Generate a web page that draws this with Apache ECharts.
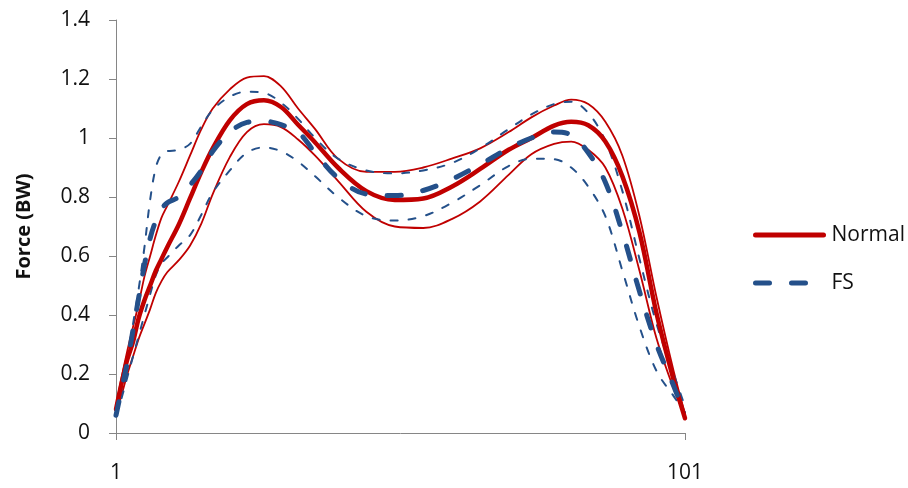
<!DOCTYPE html>
<html>
<head>
<meta charset="utf-8">
<script src="https://cdn.jsdelivr.net/npm/echarts@6/dist/echarts.min.js"></script>
<style>
html,body{margin:0;padding:0;background:#fff;}
#chart{width:908px;height:488px;}
</style>
</head>
<body>
<div id="chart"></div>
<script>
// % of cycle (x positions of the read points)
const xPos = [1,2,3,4,5,6,7,8,9,10,12,14,16,18,21,24,27,30,33,36,40,45,50,55,60,65,70,74,78,81,84,87,90,93,96,99,101];

const normalMean  = [0.08,0.17,0.25,0.31,0.39,0.45,0.50,0.55,0.59,0.63,0.705,0.795,0.885,0.965,1.06,1.115,1.128,1.105,1.045,0.985,0.90,0.82,0.79,0.795,0.835,0.895,0.96,1.0,1.042,1.055,1.043,0.988,0.87,0.68,0.405,0.18,0.05];
const normalUpper = [0.09,0.19,0.28,0.36,0.44,0.53,0.60,0.67,0.73,0.77,0.85,0.94,1.03,1.10,1.165,1.205,1.21,1.175,1.10,1.03,0.93,0.885,0.885,0.90,0.93,0.965,1.02,1.07,1.11,1.13,1.115,1.055,0.94,0.735,0.46,0.21,0.065];
const normalLower = [0.07,0.13,0.20,0.26,0.32,0.37,0.42,0.475,0.515,0.545,0.585,0.635,0.71,0.81,0.935,1.02,1.047,1.037,0.995,0.94,0.855,0.75,0.70,0.695,0.725,0.785,0.875,0.945,0.98,0.988,0.96,0.90,0.76,0.55,0.32,0.15,0.06];
const fsMean      = [0.06,0.15,0.24,0.35,0.46,0.57,0.66,0.72,0.76,0.78,0.80,0.84,0.89,0.955,1.02,1.053,1.057,1.045,1.02,0.95,0.865,0.81,0.805,0.822,0.86,0.91,0.965,1.0,1.02,1.01,0.95,0.85,0.68,0.48,0.30,0.16,0.06];
const fsUpper     = [0.07,0.15,0.25,0.37,0.49,0.63,0.79,0.90,0.945,0.955,0.96,0.98,1.04,1.095,1.14,1.157,1.153,1.12,1.065,1.0,0.93,0.89,0.88,0.89,0.915,0.965,1.03,1.08,1.115,1.123,1.085,0.99,0.82,0.59,0.37,0.20,0.09];
const fsLower     = [0.06,0.12,0.19,0.26,0.33,0.40,0.47,0.535,0.575,0.595,0.635,0.67,0.74,0.815,0.89,0.95,0.968,0.955,0.92,0.87,0.80,0.735,0.72,0.735,0.78,0.84,0.905,0.93,0.928,0.90,0.835,0.735,0.55,0.36,0.21,0.125,0.07];

const xTicks = [1, 101];
const legendNames = ['Normal', 'FS'];

const RED = '#C00000';
const BLUE = '#24508A';
const FONT = 'Open Sans';
const THICK_DASH = [14, 22];

function pairs(ys){ return xPos.map((x,i)=>[x, ys[i]]); }
function mk(name, ys, color, width, dash){
  return {
    name: name, type: 'line', data: pairs(ys), smooth: 0.35, symbol: 'none',
    silent: true, animation: false,
    lineStyle: { color: color, width: width, type: dash || 'solid', cap: 'round', join: 'round' },
    itemStyle: { color: color }
  };
}

const chart = echarts.init(document.getElementById('chart'), null, {renderer: 'canvas'});
chart.setOption({
  backgroundColor: '#ffffff',
  animation: false,
  grid: { left: 116, right: 223, top: 20, bottom: 55, containLabel: false },
  xAxis: {
    type: 'value', min: 1, max: 101,
    splitLine: { show: false },
    axisLine: { show: true, lineStyle: { color: '#868686', width: 1 } },
    axisTick: { show: true, customValues: xTicks, length: 7, inside: false, lineStyle: { color: '#868686' } },
    axisLabel: { customValues: xTicks, margin: 30, color: '#111', fontSize: 21, fontFamily: FONT }
  },
  yAxis: {
    type: 'value', min: 0, max: 1.4, interval: 0.2,
    name: 'Force (BW)', nameLocation: 'middle', nameGap: 82, nameRotate: 90,
    nameTextStyle: { color: '#111', fontSize: 20, fontWeight: 'bold', fontFamily: FONT },
    splitLine: { show: false },
    axisLine: { show: true, lineStyle: { color: '#868686', width: 1 } },
    axisTick: { show: true, length: 7, inside: false, lineStyle: { color: '#868686' } },
    axisLabel: { margin: 26, color: '#111', fontSize: 21, fontFamily: FONT,
      formatter: v => String(Math.round(v*10)/10) }
  },
  legend: {
    data: [
      { name: legendNames[0], itemStyle: { opacity: 0 }, lineStyle: { color: RED, width: 5, type: 'solid', cap: 'round' } },
      { name: legendNames[1], itemStyle: { opacity: 0 }, lineStyle: { color: BLUE, width: 5, type: THICK_DASH, cap: 'round' } }
    ],
    orient: 'vertical', left: 748, top: 218, itemWidth: 68, itemHeight: 14, itemGap: 24,
    textStyle: { fontSize: 21, fontFamily: FONT, color: '#111', lineHeight: 24, padding: [0, 0, 0, 3] },
    selectedMode: false
  },
  series: [
    mk('Normal +SD', normalUpper, RED, 1.8),
    mk('Normal -SD', normalLower, RED, 1.8),
    mk('FS +SD', fsUpper, BLUE, 2, [7, 11]),
    mk('FS -SD', fsLower, BLUE, 2, [7, 11]),
    mk('Normal', normalMean, RED, 4.5),
    mk('FS', fsMean, BLUE, 5, THICK_DASH)
  ]
});
</script>
</body>
</html>
